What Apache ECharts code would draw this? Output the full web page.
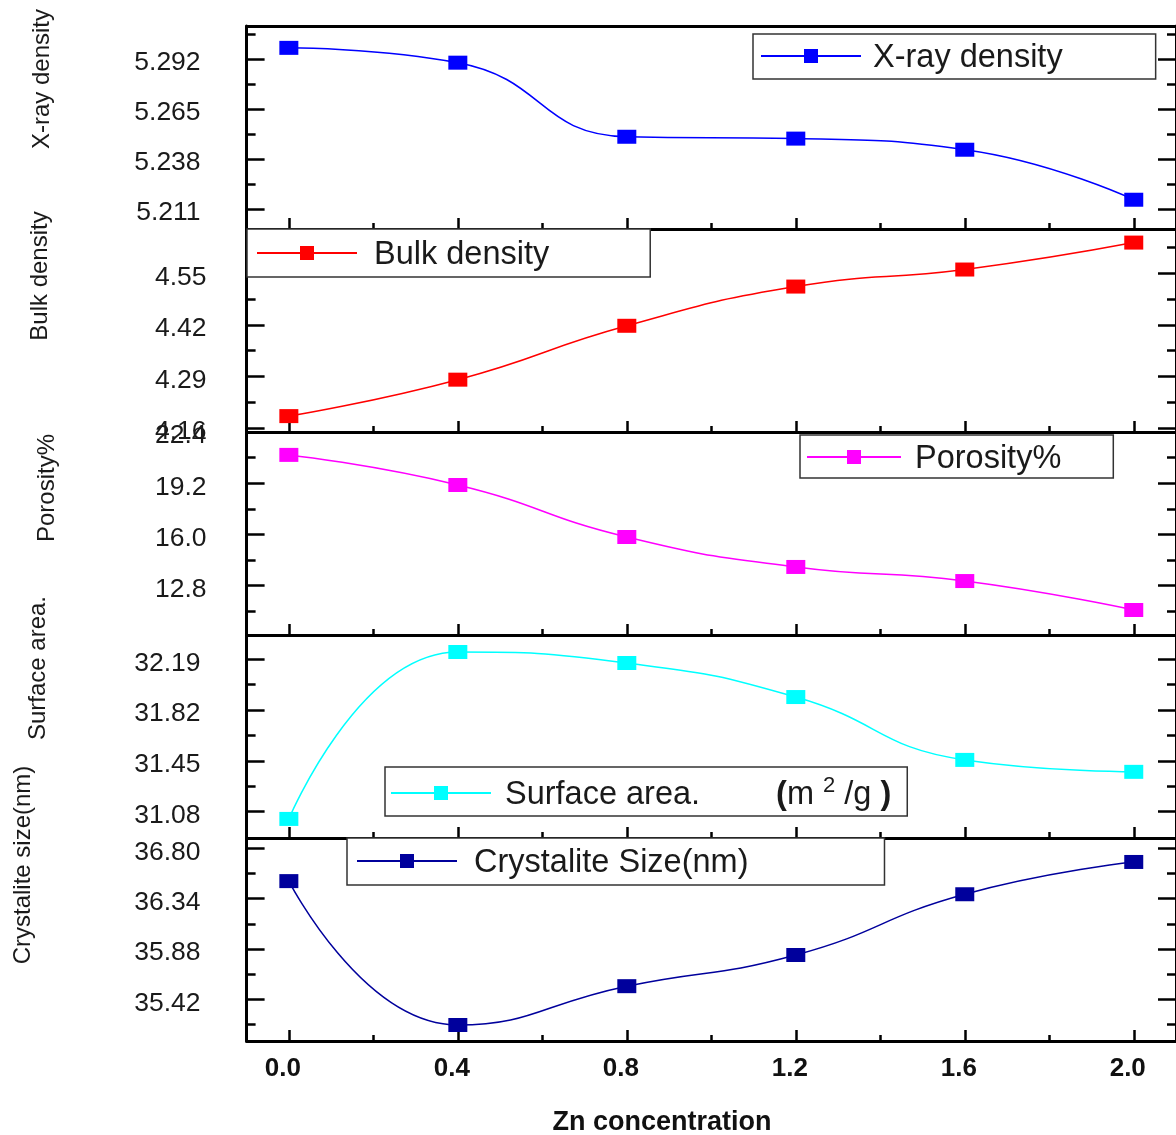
<!DOCTYPE html>
<html>
<head>
<meta charset="utf-8">
<script src="https://cdn.jsdelivr.net/npm/echarts@6/dist/echarts.min.js"></script>
<style>html,body{margin:0;padding:0;background:#fff}#c{width:1176px;height:1135px}</style>
</head>
<body>
<div id="c"></div>
<script>
// ---- data ----
const zn = [0, 0.4, 0.8, 1.2, 1.6, 2.0];
const xrayDensity = [5.298, 5.290, 5.250, 5.249, 5.243, 5.216];
const bulkDensity = [4.190, 4.282, 4.418, 4.517, 4.560, 4.628];
const porosity = [20.97, 19.09, 15.84, 13.97, 13.09, 11.28];
const surfaceArea = [31.027, 32.243, 32.163, 31.915, 31.457, 31.370];
const crystaliteSize = [36.50, 35.185, 35.54, 35.825, 36.38, 36.675];

const xTickLabels = ['0.0', '0.4', '0.8', '1.2', '1.6', '2.0'];
const xMinorTicks = [0.2, 0.6, 1.0, 1.4, 1.8];
const xrayTickLabels = ['5.211', '5.238', '5.265', '5.292'];
const xrayMinorTicks = [5.2245, 5.2515, 5.2785, 5.3055];
const bulkTickLabels = ['4.16', '4.29', '4.42', '4.55'];
const bulkMinorTicks = [4.225, 4.355, 4.485, 4.615];
const porosityTickLabels = ['12.8', '16.0', '19.2', '22.4'];
const porosityMinorTicks = [11.2, 14.4, 17.6, 20.8];
const surfaceTickLabels = ['31.08', '31.45', '31.82', '32.19'];
const surfaceMinorTicks = [31.265, 31.635, 32.005];
const crystalTickLabels = ['35.42', '35.88', '36.34', '36.80'];
const crystalMinorTicks = [35.19, 35.65, 36.11, 36.57];

const seriesNames = ['X-ray density', 'Bulk density', 'Porosity%', 'Surface area.', 'Crystalite Size(nm)'];
const axisNames = ['X-ray density', 'Bulk density', 'Porosity%', 'Surface area.', 'Crystalite size(nm)'];
// ---- layout / style ----
const FONT = '"Liberation Sans", Arial, sans-serif';
const panels = [
  {vals: xrayDensity, ticks: xrayTickLabels, minor: xrayMinorTicks, min: 5.2002, max: 5.3098, color: '#0000ff', margin: 46},
  {vals: bulkDensity, ticks: bulkTickLabels, minor: bulkMinorTicks, min: 4.1499, max: 4.6623, color: '#ff0000', margin: 40},
  {vals: porosity, ticks: porosityTickLabels, minor: porosityMinorTicks, min: 9.72, max: 22.4, color: '#ff00ff', margin: 40},
  {vals: surfaceArea, ticks: surfaceTickLabels, minor: surfaceMinorTicks, min: 30.888, max: 32.367, color: '#00ffff', margin: 46},
  {vals: crystaliteSize, ticks: crystalTickLabels, minor: crystalMinorTicks, min: 35.039, max: 36.894, color: '#00009c', margin: 46}
];
const gridTop = 26, gridH = 203;
const axisNamePos = [[42, 79, 24], [40, 276, 24], [47, 488, 24], [38, 668, 24], [23, 865, 24]];
const legendBoxes = [
  {left: 753, top: 34, pad: [3.5, 93, 4.5, 7], iw: 100, tp: 7},
  {left: 247, top: 229, pad: [5.5, 101, 5.5, 9], iw: 100, tp: 12},
  {left: 800, top: 435, pad: [3.5, 52, 2.5, 6], iw: 94, tp: 9},
  {left: 385, top: 767, pad: [7.5, 16, 4.5, 5], iw: 100, tp: 9},
  {left: 347, top: 838, pad: [4.5, 136, 5.5, 9], iw: 100, tp: 12}
];

const grids = [], xAxes = [], yAxes = [], series = [], legends = [], graphics = [];
const black = '#000';
const TXT = '#1a1a1a';
panels.forEach((p, i) => {
  grids.push({left: 246.6, right: -3.2, top: gridTop + i * gridH, height: gridH, containLabel: false});
  const majorX = zn.slice();
  xAxes.push({
    gridIndex: i, type: 'value', min: -0.1, max: 2.1, position: 'bottom',
    axisLine: {show: true, onZero: false, lineStyle: {color: black, width: 3}},
    axisTick: {show: true, inside: true, length: 11, lineStyle: {color: black, width: 2.5}, customValues: majorX},
    axisLabel: {show: i === 4, customValues: majorX, formatter: v => xTickLabels[zn.indexOf(Math.round(v * 10) / 10)] ?? v.toFixed(1),
      fontFamily: FONT, fontSize: 26, fontWeight: 'bold', color: '#111', margin: 15, padding: [0, 12, 0, 0]},
    splitLine: {show: false}
  });
  xAxes.push({
    gridIndex: i, type: 'value', min: -0.1, max: 2.1, position: 'bottom',
    axisLine: {show: false, onZero: false},
    axisTick: {show: true, inside: true, length: 6, lineStyle: {color: black, width: 2.5}, customValues: xMinorTicks},
    axisLabel: {show: false}, splitLine: {show: false}
  });
  const major = p.ticks.map(Number);
  const fmt = v => { const k = major.findIndex(m => Math.abs(m - v) < 1e-6); return k >= 0 ? '{v|' + p.ticks[k] + '}' : ''; };
  ['left', 'right'].forEach(pos => {
    yAxes.push({
      gridIndex: i, type: 'value', min: p.min, max: p.max, position: pos,
      axisLine: {show: true, onZero: false, lineStyle: {color: black, width: 3}},
      axisTick: {show: true, inside: true, length: 18, lineStyle: {color: black, width: 2.5}, customValues: major},
      axisLabel: {show: pos === 'left', customValues: major, formatter: fmt, margin: p.margin,
        rich: {v: {fontFamily: FONT, fontSize: 26.5, color: TXT, padding: [8, 0, 0, 0]}}},
      splitLine: {show: false}
    });
    yAxes.push({
      gridIndex: i, type: 'value', min: p.min, max: p.max, position: pos,
      axisLine: {show: false, onZero: false},
      axisTick: {show: true, inside: true, length: 9, lineStyle: {color: black, width: 2.5}, customValues: p.minor},
      axisLabel: {show: false}, splitLine: {show: false}
    });
  });
  series.push({
    name: seriesNames[i], type: 'line', xAxisIndex: 2 * i, yAxisIndex: 4 * i,
    data: zn.map((x, k) => [x, p.vals[k]]),
    smooth: 0.5, symbol: 'rect', symbolSize: [19, 14],
    lineStyle: {color: p.color, width: 1.5}, itemStyle: {color: p.color},
    z: 3, animation: false
  });
  const L = legendBoxes[i];
  const base = {fontFamily: FONT, fontSize: 32.5, color: TXT, lineHeight: 30};
  const leg = {
    data: [seriesNames[i]], left: L.left, top: L.top, orient: 'horizontal',
    padding: L.pad, itemWidth: L.iw, itemHeight: 17.5, itemGap: 0,
    backgroundColor: '#fff', borderColor: '#333', borderWidth: 1.5,
    selectedMode: false, z: 10,
    formatter: name => '{t|' + name + '}',
    textStyle: {fontFamily: FONT, fontSize: 32.5, color: TXT,
      rich: {t: Object.assign({}, base, {padding: [4, 0, 0, L.tp]})}}
  };
  if (i === 3) {
    leg.formatter = () => '{t|Surface area.}{g|}{b|(}{n|m }{s|2}{n| /g }{b|)}';
    leg.textStyle.rich = {
      t: Object.assign({}, base, {padding: [4, 0, 0, L.tp]}),
      n: Object.assign({}, base, {padding: [4, 0, 0, 0]}),
      g: {width: 76},
      b: Object.assign({}, base, {fontWeight: 'bold', padding: [4, 0, 0, 0]}),
      s: {fontFamily: FONT, fontSize: 22, color: TXT, lineHeight: 22, padding: [0, 0, 14, 0]}
    };
  }
  legends.push(leg);
  const [ax, ay, fs] = axisNamePos[i];
  graphics.push({type: 'text', x: ax, y: ay, rotation: Math.PI / 2,
    style: {text: axisNames[i], fontFamily: FONT, fontSize: fs, fill: TXT, align: 'center', verticalAlign: 'middle'}});
});
// top border of the first panel
xAxes.push({gridIndex: 0, type: 'value', min: -0.1, max: 2.1, position: 'top',
  axisLine: {show: true, onZero: false, lineStyle: {color: black, width: 3}},
  axisTick: {show: false}, axisLabel: {show: false}, splitLine: {show: false}});
graphics.push({type: 'text', x: 662, y: 1123,
  style: {text: 'Zn concentration', fontFamily: FONT, fontSize: 27, fontWeight: 'bold', fill: '#111', align: 'center', verticalAlign: 'middle'}});

const chart = echarts.init(document.getElementById('c'), null, {renderer: 'canvas'});
chart.setOption({
  animation: false, backgroundColor: '#fff',
  grid: grids, xAxis: xAxes, yAxis: yAxes, series: series, legend: legends, graphic: graphics
});
</script>
</body>
</html>
